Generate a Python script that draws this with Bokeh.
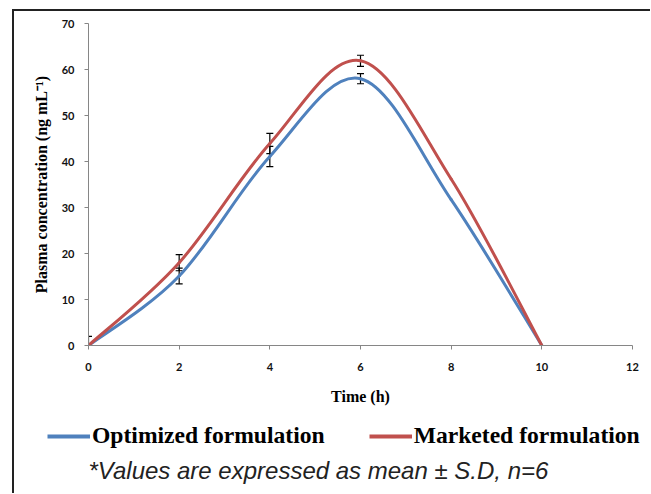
from bokeh.plotting import figure
from bokeh.layouts import column
from bokeh.models import (ColumnDataSource, Whisker, TeeHead, Legend, LegendItem,
                          Label, FixedTicker, Range1d)
from bokeh.embed import file_html
from bokeh.resources import INLINE

# ---- data ----
time_h = [0, 2, 4, 6, 8, 10]
optimized = [0, 15.1, 41.1, 58.0, 31.7, 0]
optimized_sd = [2.0, 1.7, 2.2, 1.1, 0, 0]
marketed = [0, 18.0, 43.9, 61.9, 36.2, 0]
marketed_sd = [0, 1.75, 2.2, 1.2, 0, 0]
x_ticks = [0, 2, 4, 6, 8, 10, 12]
y_ticks = [0, 10, 20, 30, 40, 50, 60, 70]
series_names = ["Optimized formulation", "Marketed formulation"]
series_colors = ["#4F81BD", "#C0504D"]
note_text = "*Values are expressed as mean \u00b1 S.D, n=6"

W = 636
H_CHART = 404
H_KEY = 78


def smooth_segments(xs, ys):
    """Excel-like smoothed line: Catmull-Rom control points for Bezier segments."""
    n = len(xs)
    d = dict(x0=[], y0=[], x1=[], y1=[], cx0=[], cy0=[], cx1=[], cy1=[])
    for i in range(n - 1):
        a = max(i - 1, 0)
        b = min(i + 2, n - 1)
        d["x0"].append(xs[i]); d["y0"].append(ys[i])
        d["x1"].append(xs[i + 1]); d["y1"].append(ys[i + 1])
        d["cx0"].append(xs[i] + (xs[i + 1] - xs[a]) / 6.0)
        d["cy0"].append(ys[i] + (ys[i + 1] - ys[a]) / 6.0)
        d["cx1"].append(xs[i + 1] - (xs[b] - xs[i]) / 6.0)
        d["cy1"].append(ys[i + 1] - (ys[b] - ys[i]) / 6.0)
    return ColumnDataSource(d)


p = figure(width=W, height=H_CHART, output_backend="svg", toolbar_location=None,
           x_range=Range1d(0, 12), y_range=Range1d(0, 70),
           min_border_left=74, min_border_right=18, min_border_top=12,
           min_border_bottom=70)
p.frame_align = False
p.outline_line_color = None
p.xgrid.visible = False
p.ygrid.visible = False
p.background_fill_color = "white"
p.border_fill_color = "white"

for ax, ticks in ((p.xaxis[0], x_ticks), (p.yaxis[0], y_ticks)):
    ax.ticker = FixedTicker(ticks=ticks)
    ax.minor_tick_line_color = None
    ax.axis_line_color = "#868686"
    ax.major_tick_line_color = "#868686"
    ax.major_tick_in = 0
    ax.major_tick_out = 4
    ax.major_label_text_font = "Lato"
    ax.major_label_text_font_style = "bold"
    ax.major_label_text_font_size = "11px"
    ax.major_label_text_color = "#111111"
    ax.axis_label_text_font = "Liberation Serif"
    ax.axis_label_text_font_style = "bold"
    ax.axis_label_text_font_size = "16px"
    ax.axis_label_text_color = "#000000"

p.xaxis.axis_label = "Time (h)"
p.yaxis.axis_label = "Plasma concentration (ng mL\u207b\u00b9)"
p.xaxis.major_label_standoff = 13
p.yaxis.major_label_standoff = 10
p.xaxis.axis_label_standoff = 14
p.yaxis.axis_label_standoff = 9

for ys, col in ((optimized, series_colors[0]), (marketed, series_colors[1])):
    src = smooth_segments(time_h, ys)
    p.bezier(x0="x0", y0="y0", x1="x1", y1="y1", cx0="cx0", cy0="cy0",
             cx1="cx1", cy1="cy1", source=src, line_color=col, line_width=3,
             line_cap="round")

for ys, sds in ((optimized, optimized_sd), (marketed, marketed_sd)):
    keep = [i for i in range(len(time_h)) if sds[i] > 0]
    src = ColumnDataSource(dict(
        x=[time_h[i] for i in keep],
        upper=[ys[i] + sds[i] for i in keep],
        lower=[ys[i] - sds[i] for i in keep]))
    w = Whisker(source=src, base="x", upper="upper", lower="lower",
                line_color="black", line_width=1.2,
                upper_head=TeeHead(size=7, line_color="black", line_width=1.2),
                lower_head=TeeHead(size=7, line_color="black", line_width=1.2))
    p.add_layout(w)

# ---- key area (legend + note) below the chart ----
k = figure(width=W, height=H_KEY, output_backend="svg", toolbar_location=None,
           x_range=Range1d(0, W), y_range=Range1d(H_KEY, 0),
           x_axis_type=None, y_axis_type=None, min_border=0)
k.frame_align = False
k.outline_line_color = None
k.background_fill_color = "white"
k.border_fill_color = "white"

# legend-only swatches (a single undefined point: nothing is drawn in the plot area)
key_renderers = [k.line(x=[float("nan")], y=[float("nan")], line_color=c, line_width=4)
                 for c in series_colors]

legend = Legend(items=[LegendItem(label=series_names[i], renderers=[key_renderers[i]])
                       for i in range(2)],
                orientation="horizontal", location=(33, 44),
                label_text_font="Liberation Serif", label_text_font_style="bold",
                label_text_font_size="23.6px", label_text_color="#000000",
                glyph_width=43, glyph_height=26, label_standoff=2, spacing=44,
                padding=0, margin=0, border_line_alpha=0, background_fill_alpha=0)
k.add_layout(legend, "center")

note = Label(x=74, y=55, text=note_text, text_font="Liberation Sans",
             text_font_style="italic", text_font_size="24px", text_color="#222222",
             text_baseline="middle", text_align="left")
k.add_layout(note)

layout = column(p, k, spacing=0, margin=(9, 0, 0, 12),
                styles={"border-left": "2px solid #222222",
                        "border-top": "2px solid #222222"})

open("out.html", "w").write(file_html(layout, INLINE))
